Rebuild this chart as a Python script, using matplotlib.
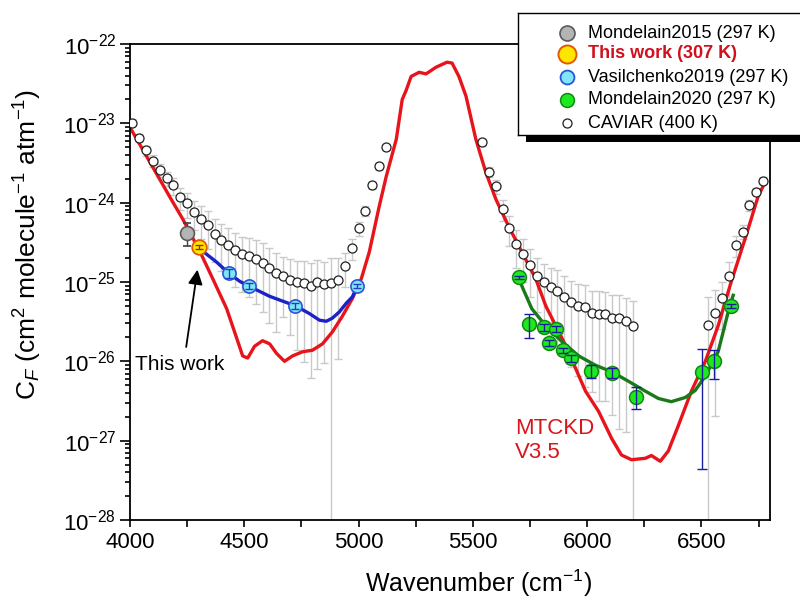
import numpy as np
import matplotlib
matplotlib.use('Agg')
import matplotlib.pyplot as plt
from matplotlib.patches import Rectangle
from matplotlib.ticker import (MultipleLocator, LogLocator, FixedLocator,
                               LogFormatterSciNotation, NullFormatter)

plt.rcParams['font.family'] = ['Liberation Sans', 'DejaVu Sans']
plt.rcParams['mathtext.fontset'] = 'custom'
plt.rcParams['mathtext.rm'] = 'Liberation Sans'
plt.rcParams['mathtext.it'] = 'Liberation Sans:italic'
plt.rcParams['mathtext.bf'] = 'Liberation Sans:bold'
plt.rcParams['axes.unicode_minus'] = False

# ---- data ----
# MTCKD V3.5 model curve
mtckd_wn = [4000, 4175, 4231, 4305, 4362, 4423, 4467, 4493, 4515, 4545, 4580, 4611, 4641,
            4676, 4711, 4755, 4798, 4842, 4885, 4929, 4973, 5012, 5047, 5090, 5121, 5165,
            5191, 5208, 5230, 5265, 5295, 5339, 5387, 5409, 5439, 5470, 5513, 5557, 5601,
            5657, 5714, 5775, 5819, 5906, 5993, 6050, 6107, 6150, 6194, 6255, 6281, 6320,
            6355, 6399, 6456, 6517, 6573, 6630, 6691, 6748, 6778]
mtckd_cf = [8.9e-24, 1.17e-24, 6.2e-25, 2.45e-25, 1.1e-25, 4.6e-26, 1.95e-26, 1.17e-26,
            1.1e-26, 1.55e-26, 1.82e-26, 1.66e-26, 1.26e-26, 1.0e-26, 1.17e-26, 1.32e-26,
            1.38e-26, 1.66e-26, 2.34e-26, 3.7e-26, 6.2e-26, 1.1e-25, 2.4e-25, 8.9e-25,
            2.14e-24, 6.3e-24, 2.0e-23, 2.6e-23, 3.9e-23, 4.4e-23, 4.2e-23, 5.1e-23, 5.9e-23,
            5.75e-23, 3.9e-23, 2.2e-23, 6.3e-24, 2.4e-24, 1.1e-24, 5.0e-25, 2.4e-25, 1.1e-25,
            5.0e-26, 1.58e-26, 4.2e-27, 2.34e-27, 1.07e-27, 6.6e-28, 5.75e-28, 6.0e-28,
            6.5e-28, 5.5e-28, 7.4e-28, 1.55e-27, 4.2e-27, 1.0e-26, 2.8e-26, 1.0e-25, 3.5e-25,
            1.2e-24, 1.8e-24]

# CAVIAR (400 K)
caviar_wn = [4010, 4040, 4070, 4100, 4130, 4160, 4190, 4220, 4250, 4280, 4310, 4340, 4370,
             4400, 4430, 4460, 4490, 4520, 4550, 4580, 4610, 4640, 4670, 4700, 4730, 4760,
             4790, 4820, 4850, 4880, 4910, 4940, 4970, 5000, 5030, 5060, 5090, 5120,
             5540, 5570, 5600, 5630, 5660, 5690, 5720, 5750, 5780, 5810, 5840, 5870, 5900,
             5930, 5960, 5990, 6020, 6050, 6080, 6110, 6140, 6170, 6200,
             6530, 6560, 6590, 6620, 6650, 6680, 6710, 6740, 6770]
caviar_cf = [1.02e-23, 6.6e-24, 4.57e-24, 3.39e-24, 2.57e-24, 2.04e-24, 1.66e-24, 1.17e-24,
             9.8e-25, 7.6e-25, 6.3e-25, 5.2e-25, 4.0e-25, 3.4e-25, 2.95e-25, 2.5e-25, 2.24e-25,
             2.14e-25, 1.95e-25, 1.74e-25, 1.51e-25, 1.29e-25, 1.2e-25, 1.07e-25, 1.0e-25,
             9.8e-26, 8.9e-26, 1.0e-25, 9.5e-26, 9.8e-26, 1.07e-25, 1.58e-25, 2.7e-25, 4.8e-25,
             7.9e-25, 1.66e-24, 2.9e-24, 5.0e-24,
             5.75e-24, 2.45e-24, 1.62e-24, 8.3e-25, 4.8e-25, 3.0e-25, 2.24e-25, 1.62e-25,
             1.2e-25, 1.0e-25, 8.7e-26, 7.8e-26, 6.5e-26, 5.6e-26, 5.0e-26, 4.8e-26, 4.1e-26,
             4.0e-26, 3.9e-26, 3.5e-26, 3.5e-26, 3.2e-26, 2.8e-26,
             2.9e-26, 4.1e-26, 6.3e-26, 1.2e-25, 2.95e-25, 4.3e-25, 9.3e-25, 1.38e-24, 1.9e-24]
# relative uncertainty (sigma / value)
caviar_rel = [0.10, 0.12, 0.14, 0.16, 0.18, 0.20, 0.25, 0.30, 0.35, 0.40, 0.45, 0.50, 0.55,
              0.60, 0.62, 0.65, 0.67, 0.70, 0.73, 0.76, 0.80, 0.82, 0.70, 0.80, 0.86, 0.90,
              0.93, 0.92, 0.90, 1.05, 0.90, 0.45, 0.30, 0.20, 0.15, 0.10, 0.10, 0.08,
              0.10, 0.15, 0.20, 0.30, 0.40, 0.50, 0.55, 0.60, 0.65, 0.70, 0.75, 0.80, 0.82,
              0.85, 0.87, 0.90, 0.90, 0.92, 0.92, 0.94, 0.96, 0.96, 1.05,
              1.20, 0.95, 0.60, 0.50, 0.30, 0.20, 0.15, 0.10, 0.10]

# Mondelain2015 (297 K)
m15_wn = [4250]
m15_cf = [4.2e-25]
m15_rel = [0.33]

# This work (307 K)
tw_wn = [4300]
tw_cf = [2.8e-25]
tw_rel = [0.06]

# Vasilchenko2019 (297 K)
vas_wn = [4432, 4519, 4724, 4994]
vas_cf = [1.29e-25, 8.9e-26, 5.0e-26, 8.9e-26]
vas_rel = [0.12, 0.08, 0.08, 0.05]
vas_fit_wn = [4300, 4318, 4379, 4432, 4480, 4519, 4611, 4724, 4785, 4829, 4859, 4885, 4916,
              4946, 4973, 4994]
vas_fit_cf = [2.8e-25, 2.45e-25, 1.78e-25, 1.29e-25, 1.02e-25, 8.9e-26, 6.6e-26, 5.0e-26,
              4.0e-26, 3.3e-26, 3.2e-26, 3.5e-26, 4.2e-26, 5.4e-26, 6.5e-26, 8.9e-26]

# Mondelain2020 (297 K)
m20_wn = [5700, 5745, 5810, 5865, 5835, 5895, 5930, 6015, 6110, 6215, 6503, 6556, 6630]
m20_cf = [1.15e-25, 2.95e-26, 2.7e-26, 2.57e-26, 1.7e-26, 1.38e-26, 1.1e-26, 7.6e-27,
          7.2e-27, 3.6e-27, 7.4e-27, 1.0e-26, 5.0e-26]
m20_rel = [0.05, 0.33, 0.10, 0.10, 0.08, 0.08, 0.10, 0.18, 0.15, 0.30, 0.94, 0.40, 0.05]
m20_fit_wn = [5701, 5723, 5758, 5819, 5889, 5963, 6037, 6107, 6181, 6255, 6312, 6368, 6429,
              6473, 6508, 6543, 6573, 6595, 6617, 6639]
m20_fit_cf = [1.1e-25, 7.8e-26, 4.6e-26, 2.8e-26, 1.78e-26, 1.17e-26, 8.9e-27, 7.4e-27,
              5.6e-27, 4.2e-27, 3.4e-27, 3.1e-27, 3.5e-27, 4.3e-27, 6.0e-27, 8.9e-27,
              1.32e-26, 2.34e-26, 4.2e-26, 6.8e-26]

y_decades = [1e-28, 1e-27, 1e-26, 1e-25, 1e-24, 1e-23, 1e-22]

legend_labels = ['Mondelain2015 (297 K)', 'This work (307 K)', 'Vasilchenko2019 (297 K)',
                 'Mondelain2020 (297 K)', 'CAVIAR (400 K)']

# ---- styles ----
red = '#e8141b'
c_m15 = dict(mfc='#b4b4b4', mec='#5a5a5a')
c_tw = dict(mfc='#ffe600', mec='#e05a00')
c_vas = dict(mfc='#80e6f6', mec='#2a55d8')
c_m20 = dict(mfc='#1ee81e', mec='#0f8a0f')
c_cav = dict(mfc='white', mec='#202020')


def arr(a):
    return np.asarray(a, dtype=float)


fig = plt.figure(figsize=(8, 6.02), dpi=100)
ax = fig.add_axes([130 / 800, 1 - 520 / 602, 640 / 800, 476 / 602])
ax.set_zorder(1)
ax.set_yscale('log')

# CAVIAR
ax.errorbar(caviar_wn, caviar_cf, yerr=arr(caviar_rel) * arr(caviar_cf), fmt='none',
            ecolor='#c9c9c9', elinewidth=1, capsize=3, capthick=1, zorder=1)
ax.plot(mtckd_wn, mtckd_cf, color=red, lw=2.4, zorder=2)
ax.plot(caviar_wn, caviar_cf, 'o', ms=6.5, mew=0.9, zorder=3, **c_cav)

# Vasilchenko fit + points (error bars drawn over the markers)
ax.plot(vas_fit_wn, vas_fit_cf, color='#1a22c8', lw=2.4, zorder=4)
ax.plot(vas_wn, vas_cf, 'o', ms=9.5, mew=1.2, zorder=5, **c_vas)
ax.errorbar(vas_wn, vas_cf, yerr=arr(vas_rel) * arr(vas_cf), fmt='none',
            ecolor='#2040c0', elinewidth=1, capsize=3, zorder=6)

# Mondelain2015
ax.errorbar(m15_wn, m15_cf, yerr=arr(m15_rel) * arr(m15_cf), fmt='o', ms=10, mew=1.2,
            ecolor='#404040', elinewidth=1, capsize=3, zorder=5, **c_m15)
# This work
ax.plot(tw_wn, tw_cf, 'o', ms=10.5, mew=1.3, zorder=6, **c_tw)
ax.errorbar(tw_wn, tw_cf, yerr=arr(tw_rel) * arr(tw_cf), fmt='none',
            ecolor='#a03000', elinewidth=1, capsize=3, zorder=7)

# Mondelain2020 fit + points
ax.plot(m20_fit_wn, m20_fit_cf, color='#1a7a1a', lw=2.4, zorder=4)
ax.plot(m20_wn, m20_cf, 'o', ms=10, mew=1.1, zorder=5, **c_m20)
ax.errorbar(m20_wn, m20_cf, yerr=arr(m20_rel) * arr(m20_cf), fmt='none',
            ecolor='#1c1ca0', elinewidth=1, capsize=3.5, zorder=6)

# annotations
ax.annotate('', xy=(4297, 1.55e-25), xytext=(4244, 1.4e-26),
            arrowprops=dict(arrowstyle='-|>', color='k', lw=1.3, mutation_scale=22),
            zorder=7)
ax.text(4020, 9.0e-27, 'This work', fontsize=15, ha='left', va='center', zorder=7)
ax.text(5683, 1.0e-27, 'MTCKD\nV3.5', fontsize=16, color='#d8141c', ha='left', va='center',
        linespacing=1.2, zorder=7)

# axes
ax.set_xlim(4000, 6800)
ax.set_ylim(1e-28, 1e-22)
ax.xaxis.set_major_locator(MultipleLocator(500))
ax.xaxis.set_minor_locator(MultipleLocator(250))
ax.yaxis.set_major_locator(FixedLocator(y_decades))
ax.yaxis.set_minor_locator(LogLocator(base=10, subs=np.arange(2, 10), numticks=10))
ax.yaxis.set_major_formatter(LogFormatterSciNotation())
ax.yaxis.set_minor_formatter(NullFormatter())
ax.tick_params(which='both', direction='out', top=False, right=False, width=1.2)
ax.tick_params(axis='x', which='both', length=5, labelsize=16, pad=4)
ax.tick_params(axis='y', which='major', length=7, labelsize=16, pad=3)
ax.tick_params(axis='y', which='minor', length=3.5)
for s in ax.spines.values():
    s.set_linewidth(1.3)

ax.set_xlabel('Wavenumber (cm$^{-1}$)', fontsize=18)
ax.xaxis.set_label_coords(0.545, -0.10)
ax.set_ylabel(r'C$_{\mathit{F}}$ (cm$^{2}$ molecule$^{-1}$ atm$^{-1}$)', fontsize=19)
ax.yaxis.set_label_coords(-0.135, 0.58)

# legend box drawn by hand (it runs past the right edge as in the original)
lw_px, lh_px = 292, 122
shadow = Rectangle((526 / 800, 1 - 142 / 602), lw_px / 800, lh_px / 602,
                   transform=fig.transFigure, facecolor='black', edgecolor='none', zorder=2)
fig.add_artist(shadow)
lax = fig.add_axes([518 / 800, 1 - 135 / 602, lw_px / 800, lh_px / 602])
lax.set_zorder(3)
lax.set_xlim(0, lw_px)
lax.set_ylim(lh_px, 0)
lax.set_xticks([])
lax.set_yticks([])
for s in lax.spines.values():
    s.set_linewidth(1.0)
    s.set_color('black')

row_y = [20, 41, 64, 87, 110]
leg_styles = [dict(ms=10.8, mew=1.2, **c_m15), dict(ms=13, mew=1.4, **c_tw),
              dict(ms=10, mew=1.3, **c_vas), dict(ms=10, mew=1.1, **c_m20),
              dict(ms=6.5, mew=0.9, **c_cav)]
for i, (lab, st) in enumerate(zip(legend_labels, leg_styles)):
    lax.plot([49], [row_y[i]], 'o', **st)
    if i == 1:
        lax.text(70, row_y[i], lab, fontsize=13, color='#d0101c', fontweight='bold',
                 va='center', ha='left')
    else:
        lax.text(70, row_y[i], lab, fontsize=13, color='black', va='center', ha='left')

fig.savefig('out.png', dpi=100)
